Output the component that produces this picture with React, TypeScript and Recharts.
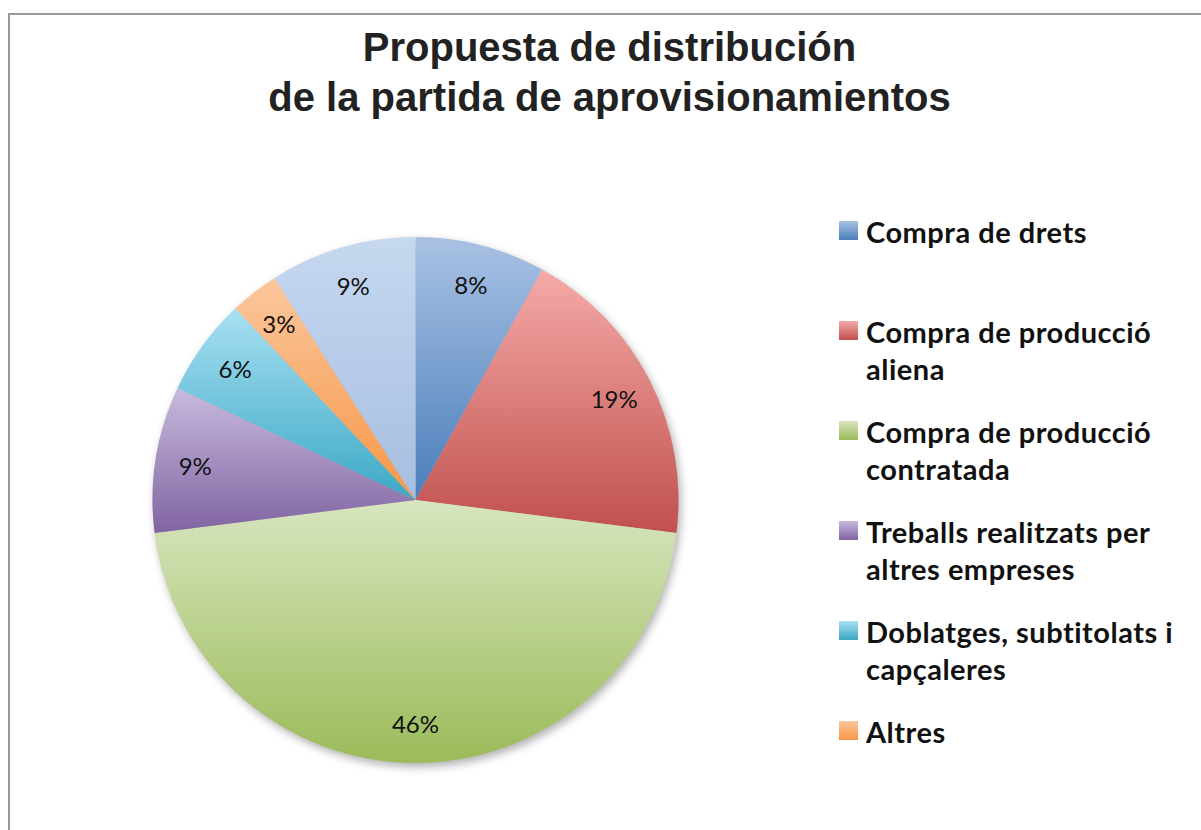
import { PieChart, Pie, Cell, Legend } from 'recharts';

const categories = [
  'Compra de drets',
  'Compra de producció aliena',
  'Compra de producció contratada',
  'Treballs realitzats per altres empreses',
  'Doblatges, subtitolats i capçaleres',
  'Altres',
  'Altres (sense llegenda)',
];
const shares = [8, 19, 46, 9, 6, 3, 9];
// legend lines as they wrap in the picture
const legendLines = [
  ['Compra de drets'],
  ['Compra de producció', 'aliena'],
  ['Compra de producció', 'contratada'],
  ['Treballs realitzats per', 'altres empreses'],
  ['Doblatges, subtitolats i', 'capçaleres'],
  ['Altres'],
];
const topColors = ['#a9c1e3', '#f5aaa8', '#d8e5bf', '#c8badd', '#a8e0f3', '#fbc79d', '#c6d8ef'];
const bottomColors = ['#4a7ebb', '#c0504d', '#9bbb59', '#8064a2', '#3ba8c4', '#f79646', '#a6bee1'];

const data = categories.map((name, i) => ({ name, value: shares[i] }));

const RAD = Math.PI / 180;

const renderLabel = (p: any) => {
  const r = 223;
  const x = p.cx + r * Math.cos(-p.midAngle * RAD);
  const y = p.cy + r * Math.sin(-p.midAngle * RAD);
  return (
    <text x={x} y={y} textAnchor="middle" dominantBaseline="central"
      style={{ fontFamily: 'Lato', fontSize: 24, fill: '#111' }}>
      {p.value}%
    </text>
  );
};

const LegendBox = () => (
  <div style={{ fontFamily: 'Lato', fontWeight: 700, fontSize: 29, letterSpacing: 0.5, color: '#111' }}>
    {legendLines.map((lines, i) => (
      <div key={i} style={{ position: 'absolute', top: i * 100, left: 0, width: 360 }}>
        <div style={{
          position: 'absolute', left: 0, top: 5, width: 19, height: 19,
          background: `linear-gradient(${topColors[i]}, ${bottomColors[i]})`,
        }} />
        {lines.map((t, j) => (
          <div key={j} style={{ position: 'absolute', left: 27, top: j * 37 - 2, whiteSpace: 'nowrap', lineHeight: '36px' }}>{t}</div>
        ))}
      </div>
    ))}
  </div>
);

export default function App() {
  return (
    <div style={{ position: 'absolute', left: 0, top: 0, width: 1201, height: 830, background: '#fff', overflow: 'hidden' }}>
      <div style={{ position: 'absolute', left: 8, top: 13, width: 1300, height: 900, borderLeft: '2px solid #9a9a9a', borderTop: '2px solid #9a9a9a' }} />
      <div style={{
        position: 'absolute', left: 0, width: 1219, top: 22, textAlign: 'center',
        fontFamily: '"Liberation Sans", Arial, sans-serif', fontWeight: 700, fontSize: 40, lineHeight: '50px', color: '#222',
      }}>
        Propuesta de distribución<br />de la partida de aprovisionamientos
      </div>
      <div style={{ position: 'absolute', left: 0, top: 0 }}>
        <PieChart width={1201} height={830} margin={{ top: 0, right: 0, bottom: 0, left: 0 }}>
          <defs>
            {topColors.map((c, i) => (
              <linearGradient key={i} id={`g${i}`} x1="0" y1="0" x2="0" y2="1">
                <stop offset="0%" stopColor={c} />
                <stop offset="100%" stopColor={bottomColors[i]} />
              </linearGradient>
            ))}
            <filter id="blur" x="-10%" y="-10%" width="120%" height="120%">
              <feGaussianBlur stdDeviation="4" />
            </filter>
          </defs>
          <Pie data={[{ name: 'shadow', value: 1 }]} dataKey="value" cx={418} cy={504} outerRadius={263}
            startAngle={90} endAngle={-270} isAnimationActive={false} stroke="none" legendType="none">
            <Cell fill="#000" fillOpacity={0.3} filter="url(#blur)" />
          </Pie>
          <Pie data={data} dataKey="value" nameKey="name" cx={415.5} cy={500} outerRadius={263}
            startAngle={90} endAngle={-270} isAnimationActive={false} stroke="none"
            label={renderLabel} labelLine={false}>
            {data.map((d, i) => (
              <Cell key={d.name} fill={`url(#g${i})`} />
            ))}
          </Pie>
          <Legend content={<LegendBox />} wrapperStyle={{ position: 'absolute', left: 839, top: 216, width: 360, height: 620 }} />
        </PieChart>
      </div>
    </div>
  );
}
